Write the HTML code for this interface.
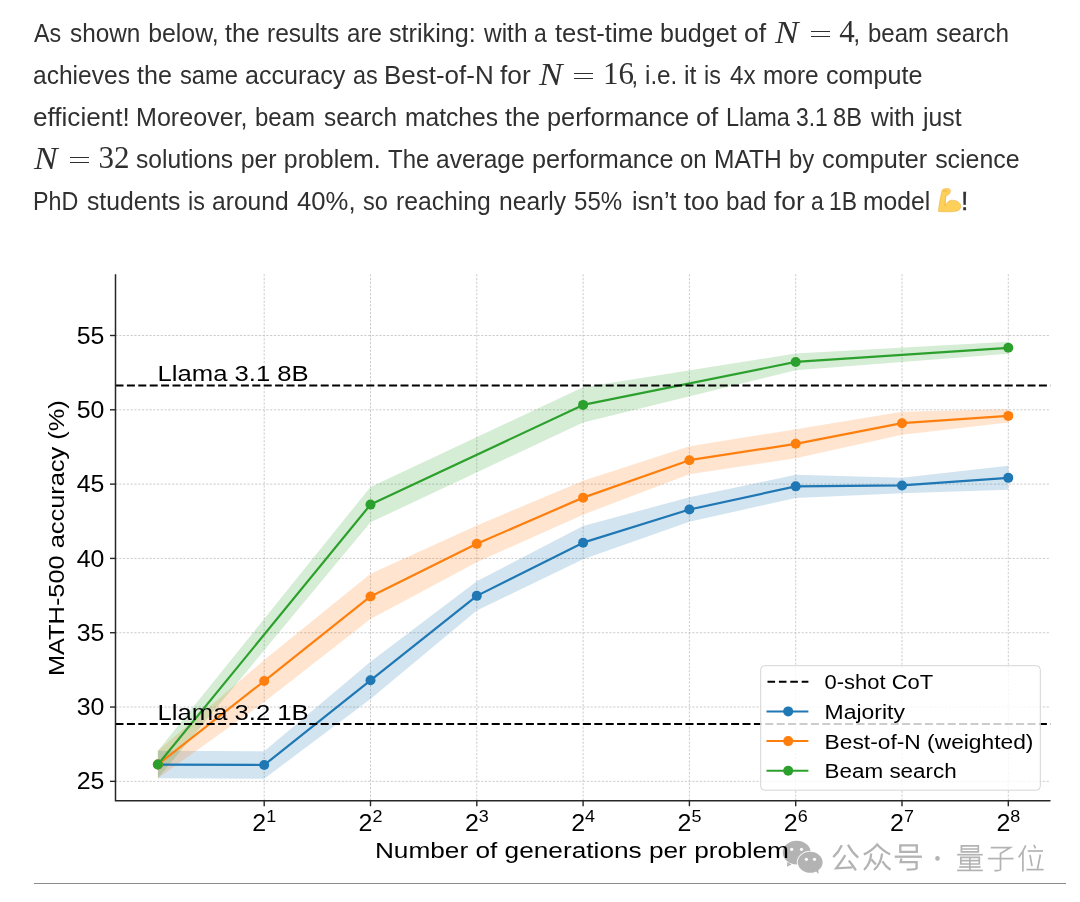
<!DOCTYPE html>
<html><head><meta charset="utf-8">
<style>
html,body{margin:0;padding:0;background:#fff;}
body{width:1080px;height:902px;position:relative;overflow:hidden;will-change:transform;font-family:"Liberation Sans",sans-serif;color:#303030;}
.ln{position:absolute;white-space:nowrap;font-size:24.9px;line-height:30px;transform-origin:0 0;}
.m{position:absolute;white-space:nowrap;font-family:"Liberation Serif",serif;font-size:31px;line-height:34px;}
.md{font-size:31px;}
.mi{font-style:italic;transform:scaleX(1.14);transform-origin:0 0;}
.eq{position:absolute;width:19.5px;height:1.3px;background:#303030;}
svg text{font-family:"Liberation Sans",sans-serif;fill:#000;}
#chart{position:absolute;left:0;top:0;}
.rule{position:absolute;left:33.5px;top:883px;width:1032px;height:1.2px;background:#8c8c8c;}
</style></head><body>
<div id="para">
<div class="m mi" style="left:775px;top:15.5px">N</div>
<div class="eq" style="left:810.5px;top:30.6px"></div><div class="eq" style="left:810.5px;top:35.9px"></div>
<div class="m md" style="left:839.2px;top:15px">4</div>
<div class="m mi" style="left:539px;top:57.5px">N</div>
<div class="eq" style="left:573.5px;top:72.6px"></div><div class="eq" style="left:573.5px;top:77.9px"></div>
<div class="m md" style="left:603px;top:57px">16</div>
<div class="m mi" style="left:34.2px;top:141.5px">N</div>
<div class="eq" style="left:69.5px;top:156.6px"></div><div class="eq" style="left:69.5px;top:161.9px"></div>
<div class="m md" style="left:98.6px;top:141px">32</div>
<div class="ln" style="left:961.3px;top:186px;-webkit-text-stroke:0.45px #303030">!</div>
<div class="ln" style="left:34.20px;top:17.5px;transform:scaleX(0.9355)">As</div>
<div class="ln" style="left:69.78px;top:17.5px;transform:scaleX(0.9781)">shown</div>
<div class="ln" style="left:148.15px;top:17.5px">below,</div>
<div class="ln" style="left:225.07px;top:17.5px;transform:scaleX(1.0053)">the</div>
<div class="ln" style="left:267.20px;top:17.5px;transform:scaleX(0.9863)">results</div>
<div class="ln" style="left:346.68px;top:17.5px;transform:scaleX(0.9690)">are</div>
<div class="ln" style="left:389.43px;top:17.5px;transform:scaleX(1.0114)">striking:</div>
<div class="ln" style="left:484.27px;top:17.5px;transform:scaleX(0.9836)">with</div>
<div class="ln" style="left:534.45px;top:17.5px;transform:scaleX(0.9200)">a</div>
<div class="ln" style="left:554.79px;top:17.5px;transform:scaleX(1.0285)">test-time</div>
<div class="ln" style="left:660.25px;top:17.5px;transform:scaleX(1.0061)">budget</div>
<div class="ln" style="left:743.97px;top:17.5px;transform:scaleX(1.0666)">of</div>
<div class="ln" style="left:853.25px;top:17.5px">,</div>
<div class="ln" style="left:867.58px;top:17.5px;transform:scaleX(0.9642)">beam</div>
<div class="ln" style="left:936.42px;top:17.5px;transform:scaleX(0.9758)">search</div>
<div class="ln" style="left:32.91px;top:59.5px;transform:scaleX(0.9866)">achieves</div>
<div class="ln" style="left:137.07px;top:59.5px;transform:scaleX(1.0074)">the</div>
<div class="ln" style="left:179.81px;top:59.5px;transform:scaleX(0.9539)">same</div>
<div class="ln" style="left:244.55px;top:59.5px;transform:scaleX(1.0078)">accuracy</div>
<div class="ln" style="left:352.54px;top:59.5px;transform:scaleX(0.9401)">as</div>
<div class="ln" style="left:384.29px;top:59.5px;transform:scaleX(1.0430)">Best-of-N</div>
<div class="ln" style="left:500.38px;top:59.5px;transform:scaleX(1.0544)">for</div>
<div class="ln" style="left:631.15px;top:59.5px">,</div>
<div class="ln" style="left:645.21px;top:59.5px;transform:scaleX(0.9727)">i.e.</div>
<div class="ln" style="left:684.42px;top:59.5px;transform:scaleX(0.9956)">it</div>
<div class="ln" style="left:704.32px;top:59.5px;transform:scaleX(0.9343)">is</div>
<div class="ln" style="left:729.54px;top:59.5px;transform:scaleX(0.9696)">4x</div>
<div class="ln" style="left:763.39px;top:59.5px;transform:scaleX(0.9800)">more</div>
<div class="ln" style="left:825.85px;top:59.5px;transform:scaleX(1.0108)">compute</div>
<div class="ln" style="left:32.85px;top:101.5px;transform:scaleX(1.0490)">efficient!</div>
<div class="ln" style="left:135.87px;top:101.5px;transform:scaleX(1.0082)">Moreover,</div>
<div class="ln" style="left:254.62px;top:101.5px;transform:scaleX(0.9661)">beam</div>
<div class="ln" style="left:323.60px;top:101.5px;transform:scaleX(0.9777)">search</div>
<div class="ln" style="left:404.73px;top:101.5px;transform:scaleX(0.9889)">matches</div>
<div class="ln" style="left:505.02px;top:101.5px;transform:scaleX(1.0119)">the</div>
<div class="ln" style="left:547.40px;top:101.5px;transform:scaleX(1.0174)">performance</div>
<div class="ln" style="left:696.40px;top:101.5px;transform:scaleX(1.0737)">of</div>
<div class="ln" style="left:725.59px;top:101.5px;transform:scaleX(0.9430)">Llama</div>
<div class="ln" style="left:796.18px;top:101.5px;transform:scaleX(0.9200)">3.1</div>
<div class="ln" style="left:832.93px;top:101.5px;transform:scaleX(0.9490)">8B</div>
<div class="ln" style="left:870.80px;top:101.5px;transform:scaleX(0.9901)">with</div>
<div class="ln" style="left:922.58px;top:101.5px;transform:scaleX(0.9949)">just</div>
<div class="ln" style="left:135.60px;top:143.5px;transform:scaleX(0.9892)">solutions</div>
<div class="ln" style="left:240.64px;top:143.5px">per</div>
<div class="ln" style="left:283.83px;top:143.5px">problem.</div>
<div class="ln" style="left:387.96px;top:143.5px;transform:scaleX(0.9627)">The</div>
<div class="ln" style="left:435.94px;top:143.5px;transform:scaleX(0.9850)">average</div>
<div class="ln" style="left:531.89px;top:143.5px;transform:scaleX(1.0124)">performance</div>
<div class="ln" style="left:680.26px;top:143.5px;transform:scaleX(0.9647)">on</div>
<div class="ln" style="left:714.25px;top:143.5px;transform:scaleX(0.9849)">MATH</div>
<div class="ln" style="left:789.11px;top:143.5px;transform:scaleX(0.9585)">by</div>
<div class="ln" style="left:822.05px;top:143.5px;transform:scaleX(1.0147)">computer</div>
<div class="ln" style="left:935.14px;top:143.5px">science</div>
<div class="ln" style="left:33.43px;top:185.5px;transform:scaleX(0.9361)">PhD</div>
<div class="ln" style="left:86.79px;top:185.5px;transform:scaleX(0.9933)">students</div>
<div class="ln" style="left:187.97px;top:185.5px;transform:scaleX(0.9363)">is</div>
<div class="ln" style="left:212.02px;top:185.5px;transform:scaleX(0.9895)">around</div>
<div class="ln" style="left:297.31px;top:185.5px;transform:scaleX(1.0313)">40%,</div>
<div class="ln" style="left:363.42px;top:185.5px;transform:scaleX(0.9441)">so</div>
<div class="ln" style="left:395.82px;top:185.5px;transform:scaleX(0.9934)">reaching</div>
<div class="ln" style="left:498.76px;top:185.5px;transform:scaleX(0.9906)">nearly</div>
<div class="ln" style="left:574.23px;top:185.5px;transform:scaleX(0.9678)">55%</div>
<div class="ln" style="left:631.90px;top:185.5px;transform:scaleX(1.0063)">isn’t</div>
<div class="ln" style="left:683.50px;top:185.5px;transform:scaleX(1.0157)">too</div>
<div class="ln" style="left:726.18px;top:185.5px;transform:scaleX(0.9739)">bad</div>
<div class="ln" style="left:774.07px;top:185.5px;transform:scaleX(1.0569)">for</div>
<div class="ln" style="left:810.72px;top:185.5px;transform:scaleX(0.9200)">a</div>
<div class="ln" style="left:829.17px;top:185.5px;transform:scaleX(0.9200)">1B</div>
<div class="ln" style="left:863.14px;top:185.5px;transform:scaleX(0.9924)">model</div>
</div>
<svg id="chart" width="1080" height="902" viewBox="0 0 1080 902">
<g stroke="#aaaaaa" stroke-width="0.8" stroke-dasharray="2.2 1.57" opacity="0.75"><line x1="264.20" y1="274.2" x2="264.20" y2="800.7"/><line x1="370.50" y1="274.2" x2="370.50" y2="800.7"/><line x1="476.80" y1="274.2" x2="476.80" y2="800.7"/><line x1="583.10" y1="274.2" x2="583.10" y2="800.7"/><line x1="689.40" y1="274.2" x2="689.40" y2="800.7"/><line x1="795.70" y1="274.2" x2="795.70" y2="800.7"/><line x1="902.00" y1="274.2" x2="902.00" y2="800.7"/><line x1="1008.30" y1="274.2" x2="1008.30" y2="800.7"/><line x1="115.5" y1="781.35" x2="1050.5" y2="781.35"/><line x1="115.5" y1="707.04" x2="1050.5" y2="707.04"/><line x1="115.5" y1="632.73" x2="1050.5" y2="632.73"/><line x1="115.5" y1="558.42" x2="1050.5" y2="558.42"/><line x1="115.5" y1="484.11" x2="1050.5" y2="484.11"/><line x1="115.5" y1="409.80" x2="1050.5" y2="409.80"/><line x1="115.5" y1="335.49" x2="1050.5" y2="335.49"/></g>
<polygon points="157.90,750.86 264.20,751.30 370.50,661.69 476.80,581.27 583.10,525.97 689.40,497.32 795.70,474.74 902.00,477.65 1008.30,465.87 1008.30,489.87 902.00,493.25 795.70,497.94 689.40,521.72 583.10,559.37 476.80,610.47 370.50,698.89 264.20,778.70 157.90,778.26" fill="#1f77b4" fill-opacity="0.2"/>
<polygon points="157.90,750.86 264.20,660.03 370.50,573.87 476.80,525.56 583.10,480.63 689.40,446.18 795.70,429.33 902.00,411.68 1008.30,409.19 1008.30,422.59 902.00,434.68 795.70,458.33 689.40,474.18 583.10,514.63 476.80,562.16 370.50,619.07 264.20,702.03 157.90,778.26" fill="#ff7f0e" fill-opacity="0.2"/>
<polygon points="157.90,750.86 370.50,486.92 583.10,387.30 795.70,353.54 1008.30,341.83 1008.30,353.83 795.70,370.34 583.10,422.50 370.50,522.32 157.90,778.26" fill="#2ca02c" fill-opacity="0.2"/>
<polyline points="157.90,764.56 264.20,765.00 370.50,680.29 476.80,595.87 583.10,542.67 689.40,509.52 795.70,486.34 902.00,485.45 1008.30,477.87" fill="none" stroke="#1f77b4" stroke-width="2.2" stroke-linejoin="round"/><circle cx="157.90" cy="764.56" r="5.0" fill="#1f77b4"/><circle cx="264.20" cy="765.00" r="5.0" fill="#1f77b4"/><circle cx="370.50" cy="680.29" r="5.0" fill="#1f77b4"/><circle cx="476.80" cy="595.87" r="5.0" fill="#1f77b4"/><circle cx="583.10" cy="542.67" r="5.0" fill="#1f77b4"/><circle cx="689.40" cy="509.52" r="5.0" fill="#1f77b4"/><circle cx="795.70" cy="486.34" r="5.0" fill="#1f77b4"/><circle cx="902.00" cy="485.45" r="5.0" fill="#1f77b4"/><circle cx="1008.30" cy="477.87" r="5.0" fill="#1f77b4"/>
<polyline points="157.90,764.56 264.20,681.03 370.50,596.47 476.80,543.86 583.10,497.63 689.40,460.18 795.70,443.83 902.00,423.18 1008.30,415.89" fill="none" stroke="#ff7f0e" stroke-width="2.2" stroke-linejoin="round"/><circle cx="157.90" cy="764.56" r="5.0" fill="#ff7f0e"/><circle cx="264.20" cy="681.03" r="5.0" fill="#ff7f0e"/><circle cx="370.50" cy="596.47" r="5.0" fill="#ff7f0e"/><circle cx="476.80" cy="543.86" r="5.0" fill="#ff7f0e"/><circle cx="583.10" cy="497.63" r="5.0" fill="#ff7f0e"/><circle cx="689.40" cy="460.18" r="5.0" fill="#ff7f0e"/><circle cx="795.70" cy="443.83" r="5.0" fill="#ff7f0e"/><circle cx="902.00" cy="423.18" r="5.0" fill="#ff7f0e"/><circle cx="1008.30" cy="415.89" r="5.0" fill="#ff7f0e"/>
<polyline points="157.90,764.56 370.50,504.62 583.10,404.90 795.70,361.94 1008.30,347.83" fill="none" stroke="#2ca02c" stroke-width="2.2" stroke-linejoin="round"/><circle cx="157.90" cy="764.56" r="5.0" fill="#2ca02c"/><circle cx="370.50" cy="504.62" r="5.0" fill="#2ca02c"/><circle cx="583.10" cy="404.90" r="5.0" fill="#2ca02c"/><circle cx="795.70" cy="361.94" r="5.0" fill="#2ca02c"/><circle cx="1008.30" cy="347.83" r="5.0" fill="#2ca02c"/>
<line x1="115.5" y1="385.5" x2="1050.5" y2="385.5" stroke="#000" stroke-width="2.1" stroke-dasharray="8 3.4"/>
<line x1="115.5" y1="724.0" x2="1050.5" y2="724.0" stroke="#000" stroke-width="2.1" stroke-dasharray="8 3.4"/>
<g id="wm">
<g fill="#b3b3b3">
<path d="M787.3,862.1 L787.0,866.8 L791.5,864.6 Z"/>
<ellipse cx="796.7" cy="852.6" rx="14" ry="11.8"/>
</g>
<ellipse cx="810.2" cy="862.3" rx="13.4" ry="11.5" fill="#fff" fill-opacity="0.85"/>
<g fill="#b3b3b3">
<ellipse cx="810.2" cy="862.3" rx="12.4" ry="10.5"/>
<path d="M814.5,870 L818.6,873.9 L818.2,868 Z"/>
</g>
<g fill="#fff">
<circle cx="791.7" cy="849.3" r="1.6"/><circle cx="801.5" cy="849.3" r="1.6"/>
<circle cx="806.4" cy="859.3" r="1.6"/><circle cx="814.5" cy="859.3" r="1.6"/>
</g>
<g fill="none" stroke="#b3b3b3" stroke-width="2.3" stroke-linecap="butt" stroke-linejoin="miter">
<!-- 公 -->
<path d="M841.8,845.2 Q838.5,852.5 833.2,857.2"/>
<path d="M848.0,844.7 Q852,852.5 858.2,857.6"/>
<path d="M845.3,855.2 Q841,862.5 836.2,868.3 L852.5,867.3"/>
<path d="M848.8,860.4 Q852.8,865.3 855.9,870.3"/>
<!-- 众 -->
<path d="M863.8,854.4 Q871.5,851 877.2,844.4 Q883,851 890.1,854.2"/>
<path d="M871.2,853.5 Q870.5,864 864.0,869.8"/>
<path d="M871.4,859.4 L875.9,864.6"/>
<path d="M882.1,853.5 Q881,864 874.0,870.0"/>
<path d="M882.4,861.2 Q885,866 890.5,869.8"/>
<!-- 号 -->
<path d="M900.3,845.3 H916.8 V851.8 H900.3 Z"/>
<path d="M894.7,856.7 H921.9"/>
<path d="M901.4,858.6 L900.6,862.2 H916.6 V868.6 Q916.4,869.6 906.7,869.6"/>
</g>
<circle cx="937.5" cy="858.4" r="2.3" fill="#b3b3b3"/>
<g fill="none" stroke="#b3b3b3" stroke-width="1.7">
<!-- 量 -->
<path d="M961.4,845.8 H978.3 V851.9 H961.4 Z M961.4,849.0 H978.3"/>
<path d="M957.2,854.7 H982.8"/>
<path d="M960.8,857.4 H979.3 V864.0 H960.8 Z M960.8,860.7 H979.3 M969.9,857.4 V870.4"/>
<path d="M959.2,867.0 H980.6"/>
<path d="M957.2,870.4 H982.8"/>
<!-- 子 -->
<path d="M990.8,847.7 H1010.2 L1000.5,853.6 V869.6 Q1000.3,870.7 994.4,870.7"/>
<path d="M987.9,858.6 H1013.5"/>
<!-- 位 -->
<path d="M1025.8,845.4 Q1023,852 1018.7,857.4"/>
<path d="M1022.9,850.8 V871.4"/>
<path d="M1033.9,844.8 L1035.5,848.4"/>
<path d="M1027.7,851.0 H1043.0"/>
<path d="M1030.0,854.8 L1032.0,866.2"/>
<path d="M1040.4,854.5 L1037.5,869.0"/>
<path d="M1026.4,869.6 H1043.6"/>
</g>
</g>
<g id="emoji">
<path d="M938.4,211.4 C939.2,204 940.6,196 941.9,191.3 C942.1,189.9 942.6,189.3 943.6,189 C945.5,188.4 948,188.3 949.3,188.9 C950.5,189.6 950.7,191.5 950.2,192.6 C949.7,193.8 948.7,194.8 947.5,195.3 L945.7,196.2 C945.3,199.5 945,203 944.9,206 C946.6,202 949.5,200.2 952.3,200.2 C957,200.2 960.8,203 960.8,206.1 C960.8,208.6 959.5,210.3 957,211 C954,211.8 948,212.1 938.4,211.4 Z" fill="#fdd05a" stroke="#e8a83a" stroke-width="0.5"/>
<path d="M943.4,191.6 C944.6,190.6 946.4,190.7 947.2,191.9" fill="none" stroke="#e0a238" stroke-width="0.9" opacity="0.75"/>
<path d="M945.7,196.3 L945.3,205.6" fill="none" stroke="#e8a83a" stroke-width="0.5" opacity="0.8"/>
</g>

<text x="157.6" y="380.9" font-size="22" textLength="151.1" lengthAdjust="spacingAndGlyphs">Llama 3.1 8B</text>
<text x="157.6" y="719.9" font-size="22" textLength="151.1" lengthAdjust="spacingAndGlyphs">Llama 3.2 1B</text>
<path d="M115.5,274.2 V800.7 H1050.5" fill="none" stroke="#262626" stroke-width="1.5"/>
<g stroke="#262626" stroke-width="1.4"><line x1="110.0" y1="781.35" x2="115.5" y2="781.35"/><line x1="110.0" y1="707.04" x2="115.5" y2="707.04"/><line x1="110.0" y1="632.73" x2="115.5" y2="632.73"/><line x1="110.0" y1="558.42" x2="115.5" y2="558.42"/><line x1="110.0" y1="484.11" x2="115.5" y2="484.11"/><line x1="110.0" y1="409.80" x2="115.5" y2="409.80"/><line x1="110.0" y1="335.49" x2="115.5" y2="335.49"/><line x1="264.20" y1="800.7" x2="264.20" y2="806.2"/><line x1="370.50" y1="800.7" x2="370.50" y2="806.2"/><line x1="476.80" y1="800.7" x2="476.80" y2="806.2"/><line x1="583.10" y1="800.7" x2="583.10" y2="806.2"/><line x1="689.40" y1="800.7" x2="689.40" y2="806.2"/><line x1="795.70" y1="800.7" x2="795.70" y2="806.2"/><line x1="902.00" y1="800.7" x2="902.00" y2="806.2"/><line x1="1008.30" y1="800.7" x2="1008.30" y2="806.2"/></g>
<text x="104.4" y="789.45" font-size="23.5" text-anchor="end" textLength="27.7" lengthAdjust="spacingAndGlyphs">25</text>
<text x="104.4" y="715.14" font-size="23.5" text-anchor="end" textLength="27.7" lengthAdjust="spacingAndGlyphs">30</text>
<text x="104.4" y="640.83" font-size="23.5" text-anchor="end" textLength="27.7" lengthAdjust="spacingAndGlyphs">35</text>
<text x="104.4" y="566.52" font-size="23.5" text-anchor="end" textLength="27.7" lengthAdjust="spacingAndGlyphs">40</text>
<text x="104.4" y="492.21" font-size="23.5" text-anchor="end" textLength="27.7" lengthAdjust="spacingAndGlyphs">45</text>
<text x="104.4" y="417.90" font-size="23.5" text-anchor="end" textLength="27.7" lengthAdjust="spacingAndGlyphs">50</text>
<text x="104.4" y="343.59" font-size="23.5" text-anchor="end" textLength="27.7" lengthAdjust="spacingAndGlyphs">55</text>
<text x="252.30" y="831.0" font-size="23.5" textLength="13.9" lengthAdjust="spacingAndGlyphs">2</text>
<text x="266.20" y="822.1" font-size="17" textLength="10" lengthAdjust="spacingAndGlyphs">1</text>
<text x="358.60" y="831.0" font-size="23.5" textLength="13.9" lengthAdjust="spacingAndGlyphs">2</text>
<text x="372.50" y="822.1" font-size="17" textLength="10" lengthAdjust="spacingAndGlyphs">2</text>
<text x="464.90" y="831.0" font-size="23.5" textLength="13.9" lengthAdjust="spacingAndGlyphs">2</text>
<text x="478.80" y="822.1" font-size="17" textLength="10" lengthAdjust="spacingAndGlyphs">3</text>
<text x="571.20" y="831.0" font-size="23.5" textLength="13.9" lengthAdjust="spacingAndGlyphs">2</text>
<text x="585.10" y="822.1" font-size="17" textLength="10" lengthAdjust="spacingAndGlyphs">4</text>
<text x="677.50" y="831.0" font-size="23.5" textLength="13.9" lengthAdjust="spacingAndGlyphs">2</text>
<text x="691.40" y="822.1" font-size="17" textLength="10" lengthAdjust="spacingAndGlyphs">5</text>
<text x="783.80" y="831.0" font-size="23.5" textLength="13.9" lengthAdjust="spacingAndGlyphs">2</text>
<text x="797.70" y="822.1" font-size="17" textLength="10" lengthAdjust="spacingAndGlyphs">6</text>
<text x="890.10" y="831.0" font-size="23.5" textLength="13.9" lengthAdjust="spacingAndGlyphs">2</text>
<text x="904.00" y="822.1" font-size="17" textLength="10" lengthAdjust="spacingAndGlyphs">7</text>
<text x="996.40" y="831.0" font-size="23.5" textLength="13.9" lengthAdjust="spacingAndGlyphs">2</text>
<text x="1010.30" y="822.1" font-size="17" textLength="10" lengthAdjust="spacingAndGlyphs">8</text>
<text x="374.9" y="858.0" font-size="22" textLength="414" lengthAdjust="spacingAndGlyphs">Number of generations per problem</text>
<text transform="translate(64.4,676.1) rotate(-90)" x="0" y="0" font-size="22" textLength="275.85" lengthAdjust="spacingAndGlyphs">MATH-500 accuracy (%)</text>
<rect x="760.7" y="665.7" width="279.6" height="124.5" rx="4" ry="4" fill="#fff" fill-opacity="0.8" stroke="#d5d5d5" stroke-width="1"/><line x1="767.5" y1="681.7" x2="808.4" y2="681.7" stroke="#000" stroke-width="2.0" stroke-dasharray="7.6 3.8"/><line x1="766.5" y1="711.4" x2="808.4" y2="711.4" stroke="#1f77b4" stroke-width="2.0"/><circle cx="788.2" cy="711.4" r="5.0" fill="#1f77b4"/><line x1="766.5" y1="741.1" x2="808.4" y2="741.1" stroke="#ff7f0e" stroke-width="2.0"/><circle cx="788.2" cy="741.1" r="5.0" fill="#ff7f0e"/><line x1="766.5" y1="770.8" x2="808.4" y2="770.8" stroke="#2ca02c" stroke-width="2.0"/><circle cx="788.2" cy="770.8" r="5.0" fill="#2ca02c"/><text x="824.6" y="689.20" font-size="19.5" textLength="108.65" lengthAdjust="spacingAndGlyphs">0-shot CoT</text><text x="824.6" y="718.90" font-size="19.5" textLength="80.35" lengthAdjust="spacingAndGlyphs">Majority</text><text x="824.6" y="748.60" font-size="19.5" textLength="208.85" lengthAdjust="spacingAndGlyphs">Best-of-N (weighted)</text><text x="824.6" y="778.30" font-size="19.5" textLength="132.1" lengthAdjust="spacingAndGlyphs">Beam search</text>
</svg>
<div class="rule"></div>
</body></html>
